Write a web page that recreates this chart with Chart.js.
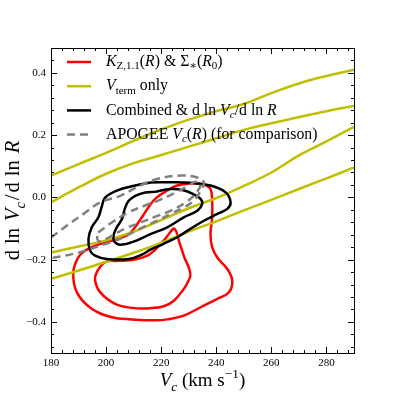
<!DOCTYPE html>
<html>
<head>
<meta charset="utf-8">
<script src="https://cdn.jsdelivr.net/npm/chart.js@4.4.1/dist/chart.umd.min.js"></script>
<style>
  html, body { margin: 0; background: #fff; }
</style>
</head>
<body>
<canvas id="c" width="394" height="394"></canvas>
<script>
// axis ticks
const xTicks = [180, 200, 220, 240, 260, 280];
const yTicks = [-0.4, -0.2, 0.0, 0.2, 0.4];

// V_term only: the two contours run off the plot, so they show up as 4 lines
const vtermLine1 = [[180,0.07],[190,0.107],[200,0.143],[210,0.182],[220,0.218],[230,0.250],[240,0.277],[250,0.30],[260,0.335],[270,0.366],[280,0.39],[290,0.41]];
const vtermLine2 = [[180,-0.016],[190,0.032],[200,0.076],[210,0.11],[220,0.136],[230,0.163],[240,0.19],[250,0.217],[260,0.238],[270,0.258],[280,0.277],[290,0.294]];
const vtermLine3 = [[180,-0.177],[190,-0.158],[200,-0.138],[210,-0.11],[220,-0.073],[230,-0.035],[240,-0.002],[250,0.037],[260,0.08],[270,0.135],[280,0.18],[290,0.227]];
const vtermLine4 = [[180,-0.262],[190,-0.235],[200,-0.207],[210,-0.178],[220,-0.146],[230,-0.11],[240,-0.077],[250,-0.042],[260,-0.008],[270,0.027],[280,0.061],[290,0.096]];

// K_Z,1.1(R) & Sigma_*(R0)
const kzOuter = [[235.5,0.043],[230.6,0.045],[225.8,0.038],[222.2,0.022],[218,-0.003],[215.5,-0.03],[213,-0.064],[208.2,-0.118],[202.1,-0.139],[196,-0.155],[192.4,-0.171],[189.9,-0.193],[188.1,-0.241],[189.4,-0.305],[194.8,-0.358],[202.1,-0.385],[209.4,-0.392],[217.9,-0.395],[222.2,-0.392],[228.2,-0.380],[234.3,-0.353],[240.4,-0.326],[244.6,-0.305],[245.8,-0.267],[244,-0.230],[240.5,-0.195],[238.5,-0.160],[237.9,-0.118],[238.5,-0.064],[238.5,-0.011],[237.9,0.027],[235.5,0.043]];
const kzInner = [[224.6,-0.098],[225.5,-0.11],[226.4,-0.139],[227.6,-0.171],[228.5,-0.195],[230,-0.225],[230.6,-0.251],[229.5,-0.275],[228.2,-0.294],[224.6,-0.332],[220.9,-0.35],[216,-0.356],[209.4,-0.355],[203.3,-0.342],[197.9,-0.305],[196,-0.267],[196.6,-0.241],[199.7,-0.208],[205,-0.204],[211.2,-0.198],[216,-0.182],[220.9,-0.139],[223,-0.115],[224.6,-0.098]];

// Combined & dlnVc/dlnR
const combOuter = [[216.1,0.048],[224.6,0.049],[230.6,0.047],[237.9,0.038],[243.4,0.016],[245.2,-0.016],[244,-0.037],[240.4,-0.053],[235.5,-0.075],[230.6,-0.101],[225.8,-0.128],[220.9,-0.149],[216.1,-0.168],[213,-0.184],[208.2,-0.198],[200.3,-0.198],[196,-0.187],[194.2,-0.171],[193.6,-0.134],[194.8,-0.096],[197.2,-0.064],[198.5,-0.027],[199.7,0.0],[203.9,0.022],[210.6,0.038],[216.1,0.048]];
const combInner = [[217.9,0.018],[223.4,0.027],[228.1,0.023],[231.7,0.010],[234.3,-0.005],[234.9,-0.021],[233.1,-0.043],[228.2,-0.064],[222.2,-0.096],[216.1,-0.118],[210,-0.142],[205.1,-0.152],[203,-0.142],[202.7,-0.123],[203.9,-0.096],[205.8,-0.069],[206.8,-0.036],[208.2,-0.011],[210.6,0.005],[214.2,0.016],[217.9,0.018]];

// APOGEE Vc(R), for comparison
const apogeeOuter = [[180,-0.129],[185.7,-0.091],[191.8,-0.053],[197.9,-0.016],[205.1,0.005],[212.4,0.038],[218.5,0.059],[227,0.070],[233.1,0.064],[235.5,0.048],[234.3,0.021],[231.8,-0.011],[228.2,-0.032],[223.4,-0.053],[218.5,-0.075],[212.4,-0.100],[205.1,-0.133],[197.9,-0.155],[190.6,-0.176],[183.3,-0.190],[180,-0.195]];
const apogeeInner = [[197.1,-0.113],[202.2,-0.080],[208,-0.049],[214.2,-0.026],[219.7,-0.007],[225.2,0.015],[229.9,0.038],[232.5,0.050],[234.3,0.044],[232.8,0.015],[229.2,-0.014],[224.1,-0.040],[217.9,-0.062],[212.4,-0.081],[207,-0.100],[201.5,-0.126],[197.9,-0.142],[196.8,-0.133],[197.1,-0.113]];

const RED = '#ff0000', YEL = '#bfbf00', BLK = '#000000', GRY = '#808080';
const SERIF = '"Liberation Serif", "DejaVu Serif", serif';

const pts = (arr) => arr.map(([x, y]) => ({ x, y }));
const curve = (arr, color, extra) => Object.assign({
  data: pts(arr),
  borderColor: color,
  borderWidth: 2.5,
  showLine: true,
  fill: false,
  pointRadius: 0,
  tension: 0.4,
}, extra || {});

// draw a run of text pieces, some italic / subscript / superscript, gap = extra space
function richText(ctx, x, y, parts, size) {
  for (const p of parts) {
    if (p.gap) { x += p.gap; continue; }
    const s = (p.sub || p.sup) ? size * 0.7 : size;
    ctx.font = (p.it ? 'italic ' : '') + s + 'px ' + SERIF;
    const dy = p.sub ? size * 0.28 : (p.sup ? -size * 0.4 : 0);
    ctx.fillText(p.t, x, y + dy);
    x += ctx.measureText(p.t).width;
  }
  return x;
}
function richWidth(ctx, parts, size) {
  let w = 0;
  for (const p of parts) {
    if (p.gap) { w += p.gap; continue; }
    const s = (p.sub || p.sup) ? size * 0.7 : size;
    ctx.font = (p.it ? 'italic ' : '') + s + 'px ' + SERIF;
    w += ctx.measureText(p.t).width;
  }
  return w;
}

const legendItems = [
  { color: RED, parts: [{t:'K',it:1},{t:'Z,1.1',sub:1},{t:'('},{t:'R',it:1},{t:') & Σ'},{t:'∗',sub:1},{t:'('},{t:'R',it:1},{t:'0',sub:1},{t:')'}] },
  { color: YEL, parts: [{t:'V',it:1},{t:'term',sub:1},{t:' only'}] },
  { color: BLK, parts: [{t:'Combined & d ln '},{t:'V',it:1},{t:'c',it:1,sub:1},{t:'/d ln '},{t:'R',it:1}] },
  { color: GRY, dash: [8, 5], parts: [{t:'APOGEE '},{t:'V',it:1},{t:'c',it:1,sub:1},{t:'('},{t:'R',it:1},{t:') (for comparison)'}] },
];

// frame with inward ticks on all four sides, legend and axis titles
const decor = {
  id: 'decor',
  afterDraw(chart) {
    const { ctx, chartArea: a, scales: { x, y } } = chart;
    ctx.save();
    ctx.strokeStyle = '#000';
    ctx.lineWidth = 1;
    ctx.strokeRect(a.left + 0.5, a.top + 0.5, a.right - a.left, a.bottom - a.top);
    ctx.beginPath();
    for (let v = 180; v <= 290; v += 4) {
      const px = Math.round(x.getPixelForValue(v)) + 0.5;
      const len = (v - 180) % 20 === 0 ? 6 : 3;
      ctx.moveTo(px, a.bottom); ctx.lineTo(px, a.bottom - len);
      ctx.moveTo(px, a.top); ctx.lineTo(px, a.top + len);
    }
    for (let k = -12; k <= 12; k++) {
      const py = Math.round(y.getPixelForValue(k * 0.04)) + 0.5;
      const len = k % 5 === 0 ? 6 : 3;
      ctx.moveTo(a.left, py); ctx.lineTo(a.left + len, py);
      ctx.moveTo(a.right, py); ctx.lineTo(a.right - len, py);
    }
    ctx.stroke();

    // legend
    ctx.fillStyle = '#000';
    ctx.textBaseline = 'middle';
    legendItems.forEach((it, i) => {
      const ly = 62 + i * 24.2;
      ctx.beginPath();
      ctx.strokeStyle = it.color;
      ctx.lineWidth = 2.5;
      ctx.setLineDash(it.dash || []);
      ctx.moveTo(67, ly); ctx.lineTo(91, ly);
      ctx.stroke();
      ctx.setLineDash([]);
      richText(ctx, 106, ly, it.parts, 15.8);
    });

    // axis titles
    ctx.textBaseline = 'alphabetic';
    const xt = [{t:'V',it:1},{t:'c',it:1,sub:1},{t:' (km s'},{t:'−1',sup:1},{t:')'}];
    const w1 = richWidth(ctx, xt, 19);
    richText(ctx, (a.left + a.right) / 2 - w1 / 2, 386, xt, 19);
    const yt = [{t:'d'},{gap:6},{t:'ln'},{gap:7},{t:'V',it:1},{t:'c',it:1,sub:1},{gap:2},{t:'/'},{gap:2},
                {t:'d'},{gap:6},{t:'ln'},{gap:7},{t:'R',it:1}];
    const w2 = richWidth(ctx, yt, 20.5);
    ctx.translate(19, (a.top + a.bottom) / 2);
    ctx.rotate(-Math.PI / 2);
    richText(ctx, -w2 / 2, 0, yt, 20.5);
    ctx.restore();
  }
};

new Chart(document.getElementById('c'), {
  type: 'scatter',
  data: {
    datasets: [
      curve(apogeeOuter, GRY, { borderDash: [8, 5] }),
      curve(apogeeInner, GRY, { borderDash: [8, 5] }),
      curve(combOuter, BLK),
      curve(combInner, BLK),
      curve(vtermLine1, YEL),
      curve(vtermLine2, YEL),
      curve(vtermLine3, YEL),
      curve(vtermLine4, YEL),
      curve(kzOuter, RED),
      curve(kzInner, RED),
    ],
  },
  options: {
    responsive: false,
    animation: false,
    layout: { padding: { left: 0, right: 40, top: 48, bottom: 0 } },
    plugins: { legend: { display: false }, tooltip: { enabled: false } },
    scales: {
      x: {
        type: 'linear', min: 180, max: 290,
        afterBuildTicks: (s) => { s.ticks = xTicks.map(v => ({ value: v })); },
        afterFit: (s) => { s.height = 41; },
        ticks: { color: '#000', padding: 4, font: { family: SERIF, size: 11 }, callback: (v) => String(v) },
        grid: { display: false, drawTicks: false },
        border: { display: false },
      },
      y: {
        type: 'linear', min: -0.5, max: 0.48,
        afterBuildTicks: (s) => { s.ticks = yTicks.map(v => ({ value: v })); },
        afterFit: (s) => { s.width = 51; },
        ticks: { color: '#000', padding: 5, font: { family: SERIF, size: 11 },
                 callback: (v) => (v < 0 ? '−' : '') + Math.abs(v).toFixed(1) },
        grid: { display: false, drawTicks: false },
        border: { display: false },
      },
    },
  },
  plugins: [decor],
});
</script>
</body>
</html>
